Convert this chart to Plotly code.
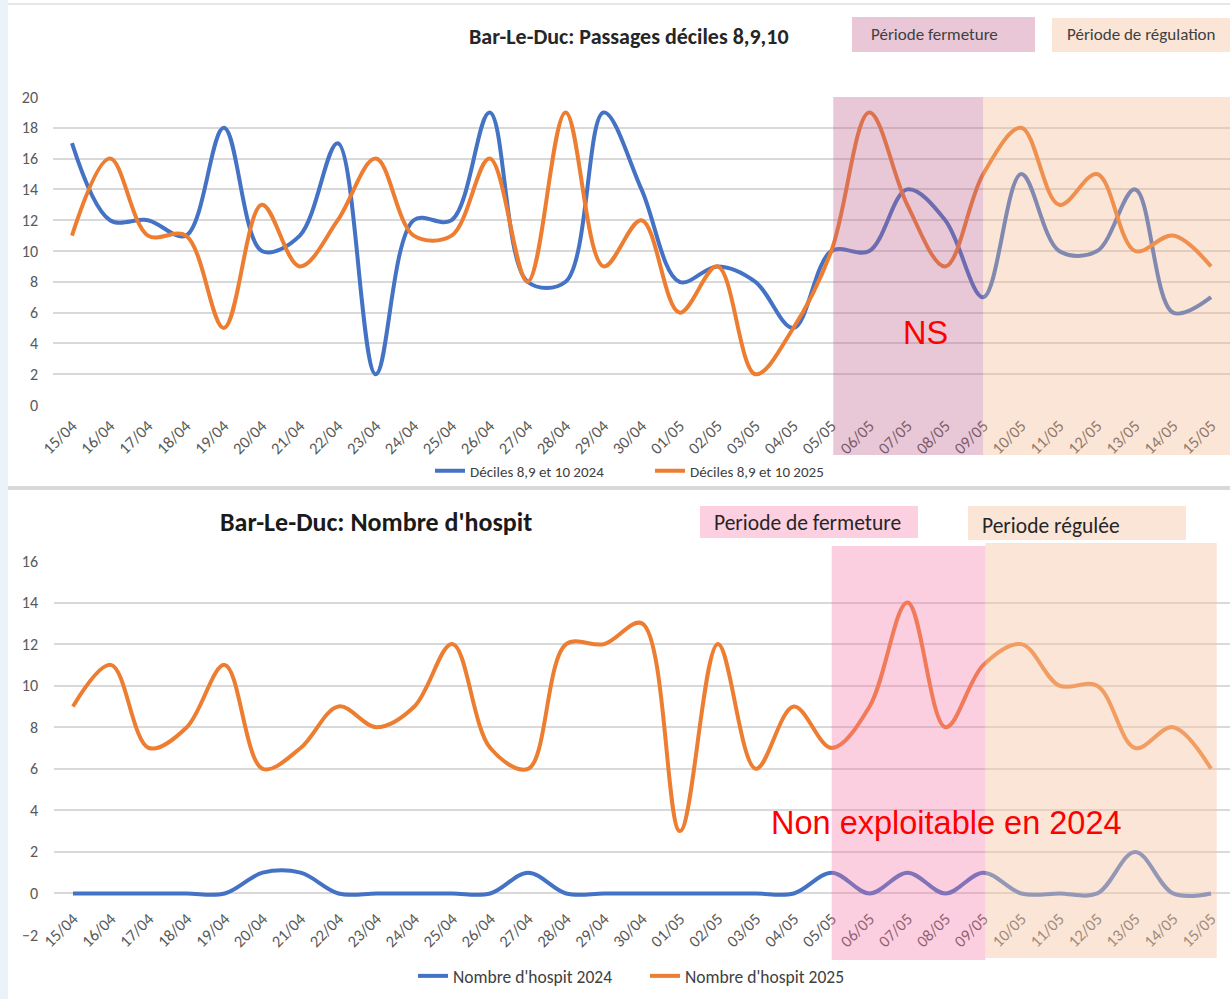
import plotly.graph_objects as go

dates = ["15/04","16/04","17/04","18/04","19/04","20/04","21/04","22/04","23/04","24/04",
         "25/04","26/04","27/04","28/04","29/04","30/04","01/05","02/05","03/05","04/05",
         "05/05","06/05","07/05","08/05","09/05","10/05","11/05","12/05","13/05","14/05","15/05"]

passages_2024 = [17,12,12,11,18,10,11,17,2,12,12,19,8,8,19,14,8,9,8,5,10,10,14,12,7,15,10,10,14,6,7]
passages_2025 = [11,16,11,11,5,13,9,12,16,11,11,16,8,19,9,12,6,9,2,5,10,19,13,9,15,18,13,15,10,11,9]

hospit_2024 = [0,0,0,0,0,1,1,0,0,0,0,0,1,0,0,0,0,0,0,0,1,0,1,0,1,0,0,0,2,0,0]
hospit_2025 = [9,11,7,8,11,6,7,9,8,9,12,7,6,12,12,13,3,12,6,9,7,9,14,8,11,12,10,10,7,8,6]

BLUE = "#4472C4"
ORANGE = "#ED7D31"
FONT = "Carlito, Lato, Calibri, sans-serif"
W, H = 1230, 999

xs = list(range(len(dates)))

def px(x):
    return x / W

def py(y):
    return 1 - y / H

fig = go.Figure()

fig.add_trace(go.Scatter(x=xs, y=passages_2024, mode="lines", name="Déciles 8,9 et 10 2024",
                         line=dict(color=BLUE, width=4, shape="spline", smoothing=1.0),
                         xaxis="x", yaxis="y", legend="legend"))
fig.add_trace(go.Scatter(x=xs, y=passages_2025, mode="lines", name="Déciles 8,9 et 10 2025",
                         line=dict(color=ORANGE, width=4, shape="spline", smoothing=1.0),
                         xaxis="x", yaxis="y", legend="legend"))
fig.add_trace(go.Scatter(x=xs, y=hospit_2024, mode="lines", name="Nombre d'hospit 2024",
                         line=dict(color=BLUE, width=4, shape="spline", smoothing=1.0),
                         xaxis="x2", yaxis="y2", legend="legend2"))
fig.add_trace(go.Scatter(x=xs, y=hospit_2025, mode="lines", name="Nombre d'hospit 2025",
                         line=dict(color=ORANGE, width=4, shape="spline", smoothing=1.0),
                         xaxis="x2", yaxis="y2", legend="legend2"))

tickfont = dict(family=FONT, size=16, color="#595959")
xtickfont = dict(family=FONT, size=16.5, color="#595959")

fig.update_layout(
    width=W, height=H,
    margin=dict(l=0, r=0, t=0, b=0, pad=0),
    paper_bgcolor="white", plot_bgcolor="rgba(0,0,0,0)",
    font=dict(family=FONT, color="#404040"),
    showlegend=True,
    xaxis=dict(domain=[px(53), 1.0], range=[-0.5, 30.5], tickvals=xs, ticktext=dates,
               tickangle=-45, tickfont=xtickfont, showgrid=False, zeroline=False,
               showline=False, ticks="", anchor="y", automargin=False, ticklabelstandoff=7),
    yaxis=dict(domain=[py(405), py(97)], range=[0, 20], dtick=2, tickfont=tickfont,
               showgrid=True, gridcolor="#D9D9D9", gridwidth=2, zeroline=False,
               showline=False, ticks="", anchor="x", ticklabelstandoff=14, automargin=False),
    xaxis2=dict(domain=[px(54), 1.0], range=[-0.5, 30.5], tickvals=xs, ticktext=dates,
                tickangle=-45, tickfont=xtickfont, showgrid=False, zeroline=False,
                showline=False, ticks="", anchor="free", position=py(893), automargin=False,
                ticklabelstandoff=12),
    yaxis2=dict(domain=[py(935), py(561)], range=[-2, 16], dtick=2, tickfont=tickfont,
                showgrid=True, gridcolor="#D9D9D9", gridwidth=2, zeroline=False,
                showline=False, ticks="", anchor="x2", ticklabelstandoff=15, automargin=False),
    legend=dict(orientation="h", x=px(430), y=py(471), xanchor="left", yanchor="middle",
                font=dict(family=FONT, size=15, color="#404040"), entrywidth=175,
                bgcolor="rgba(0,0,0,0)"),
    legend2=dict(orientation="h", x=px(413), y=py(976), xanchor="left", yanchor="middle",
                 font=dict(family=FONT, size=17.5, color="#404040"), entrywidth=187,
                 bgcolor="rgba(0,0,0,0)"),
)

shapes = []
# frame decorations
shapes.append(dict(type="rect", xref="paper", yref="paper", x0=0, x1=px(8), y0=0, y1=1,
                   fillcolor="#EAF2FA", line=dict(width=0), layer="below"))
shapes.append(dict(type="line", xref="paper", yref="paper", x0=px(8), x1=1, y0=py(488), y1=py(488),
                   line=dict(color="#D9D9D9", width=4), layer="below"))
shapes.append(dict(type="line", xref="paper", yref="paper", x0=px(8), x1=1, y0=py(4), y1=py(4),
                   line=dict(color="#E6E6E6", width=2), layer="below"))

# top chart period shading (overlay above lines)
shapes.append(dict(type="rect", xref="x", yref="paper", x0=20.05, x1=24, y0=py(455), y1=py(97),
                   fillcolor="rgba(189,98,141,0.35)", line=dict(width=0), layer="above"))
shapes.append(dict(type="rect", xref="x", yref="paper", x0=24, x1=30.5, y0=py(455), y1=py(97),
                   fillcolor="rgba(244,181,138,0.35)", line=dict(width=0), layer="above"))
# top chart label boxes
shapes.append(dict(type="rect", xref="paper", yref="paper", x0=px(852), x1=px(1035), y0=py(52), y1=py(17),
                   fillcolor="#E9C7D7", line=dict(width=0), layer="below"))
shapes.append(dict(type="rect", xref="paper", yref="paper", x0=px(1052), x1=1, y0=py(52), y1=py(18),
                   fillcolor="#FBE5D6", line=dict(width=0), layer="below"))

# bottom chart period shading
shapes.append(dict(type="rect", xref="x2", yref="paper", x0=20, x1=24.05, y0=py(960), y1=py(546),
                   fillcolor="rgba(246,118,166,0.35)", line=dict(width=0), layer="above"))
shapes.append(dict(type="rect", xref="x2", yref="paper", x0=24.05, x1=30.15, y0=py(958), y1=py(543),
                   fillcolor="rgba(246,197,164,0.45)", line=dict(width=0), layer="above"))
# bottom chart label boxes
shapes.append(dict(type="rect", xref="paper", yref="paper", x0=px(700), x1=px(918), y0=py(538), y1=py(506),
                   fillcolor="#FCD0E0", line=dict(width=0), layer="below"))
shapes.append(dict(type="rect", xref="paper", yref="paper", x0=px(968), x1=px(1186), y0=py(540), y1=py(506),
                   fillcolor="#FBE5D6", line=dict(width=0), layer="below"))

fig.update_layout(shapes=shapes)

annotations = [
    dict(text="<b>Bar-Le-Duc: Passages déciles 8,9,10</b>", x=px(629), y=py(37), xref="paper", yref="paper",
         showarrow=False, font=dict(family=FONT, size=22, color="#262626"), xanchor="center", yanchor="middle"),
    dict(text="Période fermeture", x=px(934), y=py(35), xref="paper", yref="paper",
         showarrow=False, font=dict(family=FONT, size=17, color="#404040"), xanchor="center", yanchor="middle"),
    dict(text="Période de régulation", x=px(1141), y=py(35), xref="paper", yref="paper",
         showarrow=False, font=dict(family=FONT, size=17, color="#404040"), xanchor="center", yanchor="middle"),
    dict(text="NS", x=px(925), y=py(333), xref="paper", yref="paper",
         showarrow=False, font=dict(family="Liberation Sans, Arial, sans-serif", size=32.5, color="#FF0000"),
         xanchor="center", yanchor="middle"),
    dict(text="<b>Bar-Le-Duc: Nombre d'hospit</b>", x=px(376), y=py(522), xref="paper", yref="paper",
         showarrow=False, font=dict(family=FONT, size=26, color="#1A1A1A"), xanchor="center", yanchor="middle"),
    dict(text="Periode de fermeture", x=px(807), y=py(523), xref="paper", yref="paper",
         showarrow=False, font=dict(family=FONT, size=21.5, color="#262626"), xanchor="center", yanchor="middle"),
    dict(text="Periode régulée", x=px(1051), y=py(526), xref="paper", yref="paper",
         showarrow=False, font=dict(family=FONT, size=21.5, color="#262626"), xanchor="center", yanchor="middle"),
    dict(text="Non exploitable en 2024", x=px(946), y=py(823), xref="paper", yref="paper",
         showarrow=False, font=dict(family="Liberation Sans, Arial, sans-serif", size=32.5, color="#FF0000"),
         xanchor="center", yanchor="middle"),
]
fig.update_layout(annotations=annotations)

fig.write_html("out.html", config={"displayModeBar": False},
               post_script="document.body.style.margin='0';document.body.style.overflow='hidden';"
                           "document.documentElement.style.overflow='hidden';")
